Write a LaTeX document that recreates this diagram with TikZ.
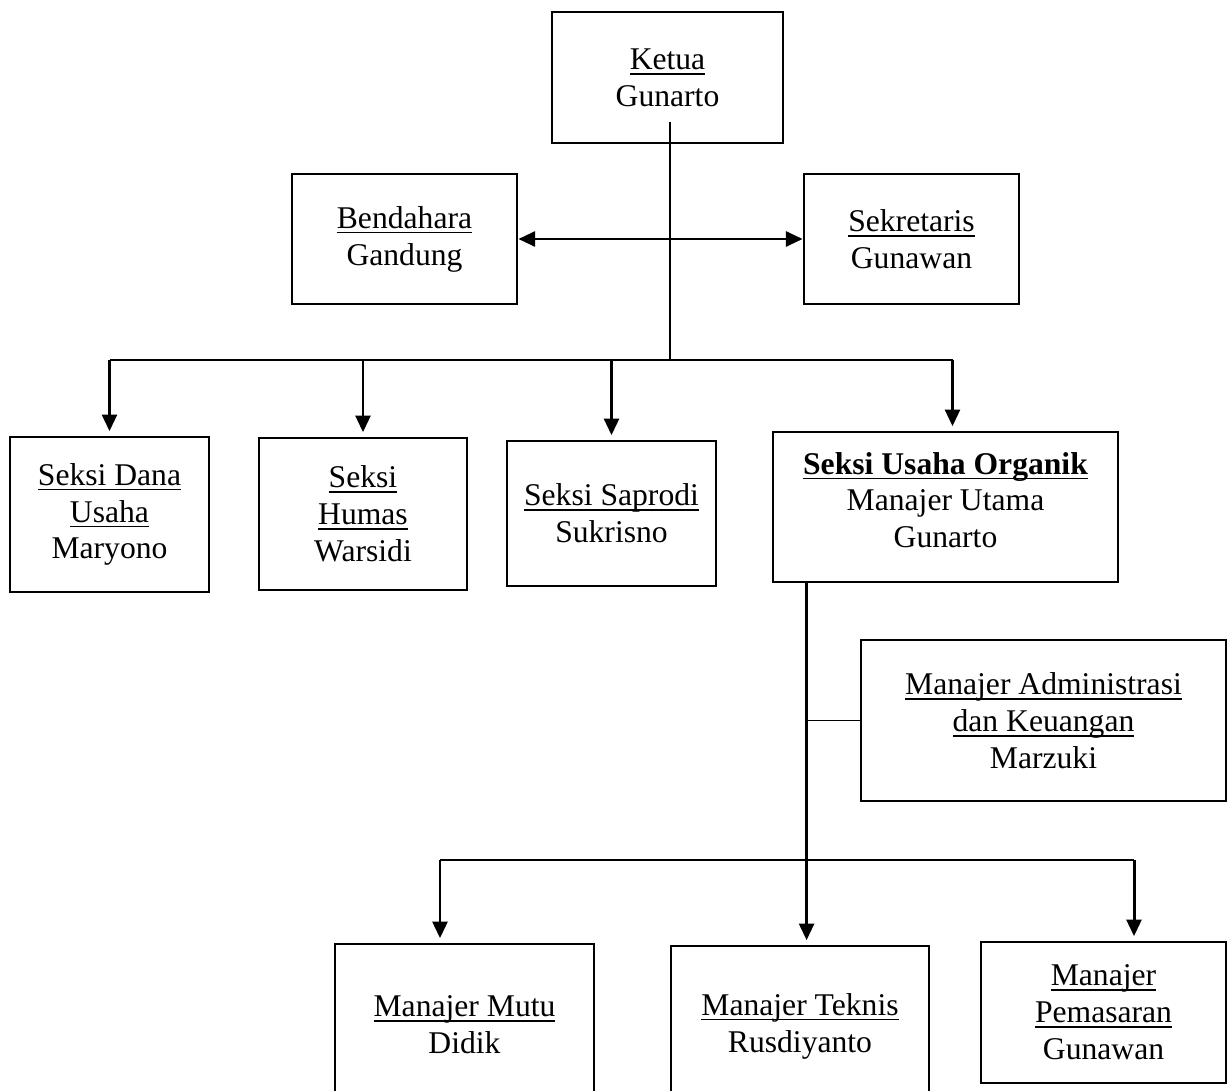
\documentclass[tikz,border=0pt]{standalone}
\usepackage{fontspec}
\setmainfont{Liberation Serif}
\usepackage{tikz}
\usetikzlibrary{arrows.meta,positioning}
\tikzset{>={Triangle[length=9.5pt,width=8.5pt]}}
\newsavebox{\ulnbox}
\newcommand{\uln}[1]{\sbox{\ulnbox}{#1}\rlap{\rule[-3pt]{\wd\ulnbox}{1pt}}\usebox{\ulnbox}}

\begin{document}
\begin{tikzpicture}[x=0.02cm, y=-0.02cm,
                    box/.style n args={2}{draw, line width=1.6pt, align=center,
                        minimum width=#1*0.02cm, minimum height=#2*0.02cm,
                        font=\fontsize{18}{21}\selectfont},
                    thinline/.style={line width=0.8pt, black},
                    downarrow/.style={line width=1.7pt, black, ->, shorten >=2.5pt},
                    biarrow/.style={line width=1.7pt, black, <->},
                   ]

\useasboundingbox (0,0) rectangle (1227,1091);

\node[box={231}{131}] (ketua) at (667.5,77.5) {\uln{Ketua}\\Gunarto};
\node[box={225}{130}] (bendahara) at (404.5,239) {\uln{Bendahara}\\Gandung};
\node[box={215}{130}] (sekretaris) at (911.5,239) {\uln{Sekretaris}\\Gunawan};

\node[box={199}{155}] (dana) at (109.5,514.5) {\uln{Seksi Dana}\\\uln{Usaha}\\Maryono};
\node[box={208}{152}] (humas) at (363,514) {\uln{Seksi}\\\uln{Humas}\\Warsidi};
\node[box={209}{145}] (saprodi) at (611.5,513.5) {\uln{Seksi Saprodi}\\Sukrisno};
\node[box={345}{150}, text depth=8pt] (usaha) at (945.5,507) {\uln{\textbf{Seksi Usaha Organik}}\\Manajer Utama\\Gunarto};

\node[box={365}{161}] (admin) at (1043.5,720.5) {\uln{Manajer Administrasi}\\\uln{dan Keuangan}\\Marzuki};

\node[box={259}{162}] (mutu) at (464.5,1025) {\uln{Manajer Mutu}\\Didik};
\node[box={258}{160}] (teknis) at (800,1026) {\uln{Manajer Teknis}\\Rusdiyanto};
\node[box={245}{141}] (pemasaran) at (1103.5,1012.5) {\uln{Manajer}\\\uln{Pemasaran}\\Gunawan};

% ketua ke seksi
\coordinate (kstem) at (670,122);
\coordinate (ktop) at (670,360);
\coordinate (jr) at ([xshift=0.14cm]usaha.north |- ktop);
\draw[thinline] (kstem) -- (ktop);
\draw[biarrow] (bendahara.east) -- (sekretaris.west);
\draw[thinline] (ktop -| dana.north) -- (jr);
\draw[downarrow] (ktop -| dana.north) -- (dana.north);
\draw[downarrow] (ktop -| humas.north) -- (humas.north);
\draw[downarrow] (ktop -| saprodi.north) -- (saprodi.north);
\draw[downarrow] (jr) -- (jr |- usaha.north);

% seksi usaha organik ke manajer
\coordinate (ustem) at ([xshift=0.7cm]usaha.south west);
\coordinate (bl) at (440,860);
\coordinate (br) at (1134,860);
\draw[downarrow] (ustem) -- (ustem |- teknis.north);
\draw[thinline] (ustem |- admin.west) -- (admin.west);
\draw[thinline] (bl) -- (br);
\draw[downarrow] (bl) -- (bl |- mutu.north);
\draw[downarrow] (br) -- (br |- pemasaran.north);

\end{tikzpicture}
\end{document}
